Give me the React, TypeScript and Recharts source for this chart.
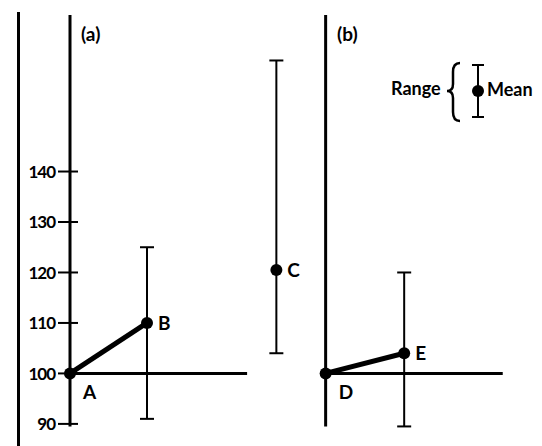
import {
  ComposedChart,
  Line,
  ErrorBar,
  XAxis,
  YAxis,
  ReferenceLine,
  LabelList
} from 'recharts'

const font = 'Lato, "Open Sans", sans-serif'

// y axis ticks (only panel a is labelled)
const yTicks = [90, 100, 110, 120, 130, 140]

// panel (a): A -> B
const aNames = ['A', 'B']
const aX = [0, 1]
const aMean = [100, 110]
const aRange: ([number, number] | null)[] = [null, [91, 125]]

// C stands on its own between the panels
const cNames = ['C']
const cX = [2.68]
const cMean = [120.5]
const cRange: ([number, number] | null)[] = [[104, 162]]

// panel (b): D -> E
const bNames = ['D', 'E']
const bX = [3.32, 4.34]
const bMean = [100, 104]
const bRange: ([number, number] | null)[] = [null, [89.5, 120]]

// axes drawn inside the plot
const panelOrigins = [0, 3.32]
const baselineEnds = [2.3, 5.62]
const axisBottom = 89.5
const axisTop = 171

type Row = { name: string; x: number; mean: number; err: [number, number] | null }

function toRows(
  names: string[],
  xs: number[],
  means: number[],
  ranges: ([number, number] | null)[]
): Row[] {
  return names.map((name, i) => {
    const r = ranges[i]
    return {
      name,
      x: xs[i],
      mean: means[i],
      err: r ? [means[i] - r[0], r[1] - means[i]] : null
    }
  })
}

const rowsA = toRows(aNames, aX, aMean, aRange)
const rowsC = toRows(cNames, cX, cMean, cRange)
const rowsB = toRows(bNames, bX, bMean, bRange)

function CrossTick(props: any) {
  const { x, y, payload } = props
  return (
    <g>
      <line x1={x + 3} x2={x + 23} y1={y} y2={y} stroke="#000" strokeWidth={2} />
      <text
        x={x}
        y={y}
        dy="0.36em"
        textAnchor="end"
        fontFamily={font}
        fontWeight={700}
        fontSize={17}
        letterSpacing={-1}
        fill="#000"
      >
        {payload.value}
      </text>
    </g>
  )
}

function renderName(props: any) {
  const { x, y, value } = props
  const below = value === 'A' || value === 'D'
  return (
    <text
      x={x + (below ? 13 : 11)}
      y={y + (below ? 26 : 7)}
      fontFamily={font}
      fontWeight={700}
      fontSize={19}
      fill="#000"
    >
      {value}
    </text>
  )
}

const dotStyle = { r: 6, fill: '#000', stroke: '#000', strokeWidth: 0 }

export default function App() {
  return (
    <div
      style={{
        position: 'absolute',
        left: 0,
        top: 0,
        width: 542,
        height: 446,
        background: '#fff',
        fontFamily: font
      }}
    >
      <div style={{ position: 'absolute', left: 0, top: 0 }}>
        <ComposedChart
          width={542}
          height={446}
          margin={{ top: 10, right: 10, bottom: 12, left: 0 }}
        >
          <XAxis type="number" dataKey="x" domain={[0, 6]} hide />
          <YAxis
            type="number"
            domain={[88, 172]}
            ticks={yTicks}
            interval={0}
            axisLine={false}
            tickLine={false}
            tickSize={12}
            tickMargin={3}
            width={70}
            tick={<CrossTick />}
          />
          {panelOrigins.map((px, i) => (
            <ReferenceLine
              key={'axis' + i}
              segment={[
                { x: px, y: axisBottom },
                { x: px, y: axisTop }
              ]}
              stroke="#000"
              strokeWidth={3}
            />
          ))}
          {panelOrigins.map((px, i) => (
            <ReferenceLine
              key={'base' + i}
              segment={[
                { x: px, y: 100 },
                { x: baselineEnds[i], y: 100 }
              ]}
              stroke="#000"
              strokeWidth={3}
            />
          ))}
          <Line
            data={rowsA}
            dataKey="mean"
            stroke="#000"
            strokeWidth={5}
            dot={dotStyle}
            activeDot={false}
            isAnimationActive={false}
          >
            <ErrorBar dataKey="err" direction="y" width={7} stroke="#000" strokeWidth={2} />
            <LabelList dataKey="name" content={renderName} />
          </Line>
          <Line
            data={rowsC}
            dataKey="mean"
            stroke="#000"
            strokeWidth={5}
            dot={dotStyle}
            activeDot={false}
            isAnimationActive={false}
          >
            <ErrorBar dataKey="err" direction="y" width={7} stroke="#000" strokeWidth={2} />
            <LabelList dataKey="name" content={renderName} />
          </Line>
          <Line
            data={rowsB}
            dataKey="mean"
            stroke="#000"
            strokeWidth={5}
            dot={dotStyle}
            activeDot={false}
            isAnimationActive={false}
          >
            <ErrorBar dataKey="err" direction="y" width={7} stroke="#000" strokeWidth={2} />
            <LabelList dataKey="name" content={renderName} />
          </Line>
        </ComposedChart>
      </div>
      <svg
        width={542}
        height={446}
        style={{ position: 'absolute', left: 0, top: 0, pointerEvents: 'none' }}
      >
        <line x1={18.5} x2={18.5} y1={12} y2={446} stroke="#000" strokeWidth={3} />
        <text x={81} y={41} fontFamily={font} fontWeight={700} fontSize={19} fill="#000">
          (a)
        </text>
        <text x={337} y={41} fontFamily={font} fontWeight={700} fontSize={19} fill="#000">
          (b)
        </text>
        {/* key */}
        <text x={391} y={95} fontFamily={font} fontWeight={700} fontSize={18} fill="#000">
          Range
        </text>
        <path
          d="M460 63 Q453 63 453 72 L453 84 Q453 91 447 91 Q453 91 453 98 L453 112 Q453 121 460 121"
          fill="none"
          stroke="#000"
          strokeWidth={2.5}
        />
        <line x1={478} x2={478} y1={65} y2={117} stroke="#000" strokeWidth={2} />
        <line x1={472} x2={484} y1={65} y2={65} stroke="#000" strokeWidth={2} />
        <line x1={472} x2={484} y1={117} y2={117} stroke="#000" strokeWidth={2} />
        <circle cx={478} cy={91} r={6} fill="#000" />
        <text x={487} y={96} fontFamily={font} fontWeight={700} fontSize={18} fill="#000">
          Mean
        </text>
      </svg>
    </div>
  )
}
